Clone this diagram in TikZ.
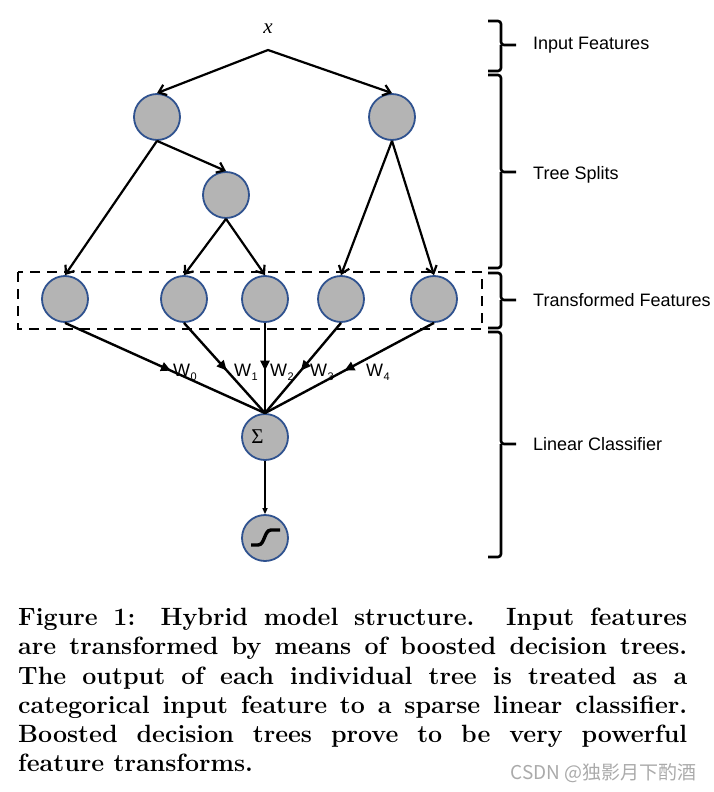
\documentclass[tikz,border=0pt]{standalone}
\usepackage{fontspec}
\newfontfamily\labfont{Liberation Sans}
\newfontfamily\symfont{Liberation Serif}
\newfontfamily\cjkfont{Noto Sans CJK SC}
\usetikzlibrary{arrows.meta,decorations.markings}
\definecolor{nodeblue}{RGB}{47,82,143}
\definecolor{nodegray}{RGB}{180,180,180}
\definecolor{wmgray}{RGB}{170,170,170}
\newcommand\mybrace[3]{%
  \draw[bracestyle] (488,#1) -| (501,#2) -- (516,#2);
  \draw[bracestyle] (501,#2) |- (488,#3);}
\newcommand\wsub[2]{W\kern0.5pt\raisebox{-4pt}{\fontsize{11}{11}\selectfont #2}}
\begin{document}
\begin{tikzpicture}[x=1pt,y=-1pt,
  unit/.style={circle, draw=nodeblue, line width=1.8pt, fill=nodegray, minimum size=46pt, inner sep=0pt},
  treeedge/.style={line width=2.2pt, -{Straight Barb[length=7pt,width=11pt]}},
  wedge/.style={line width=2.4pt, postaction={decorate},
    decoration={markings, mark=at position 0.53 with {\arrow{Triangle[length=10pt,width=9pt]}}}},
  bracestyle/.style={line width=2.6pt, rounded corners=3pt},
  lab/.style={font=\labfont\fontsize{18}{21}\selectfont, anchor=base west, inner sep=0pt},
  wlab/.style={font=\labfont\fontsize{18}{20}\selectfont, anchor=base west, inner sep=0pt}]
\useasboundingbox (0,0) rectangle (713,792);

% input
\node[font=\symfont\itshape\fontsize{21}{21}\selectfont, inner sep=0pt] (x) at (268,29) {x};
\coordinate (apex) at (268,50);

% tree nodes
\node[unit] (A) at (157,117) {};
\node[unit] (B) at (392,117) {};
\node[unit] (C) at (226,195) {};
\node[unit] (L1) at (65,299) {};
\node[unit] (L2) at (184,299) {};
\node[unit] (L3) at (265,299) {};
\node[unit] (L4) at (341,299) {};
\node[unit] (L5) at (434,299) {};
\node[unit, font=\symfont\fontsize{21}{21}\selectfont] (S) at (265,437) {\hspace*{-15pt}Σ};
\node[unit] (O) at (265,538) {};

% sigmoid glyph
\draw[line width=3.4pt] (251,545) -- (258,545) .. controls (265,545) and (264,530) .. (271,530) -- (280,530);

% tree edges
\draw[line width=2.2pt, {Straight Barb[length=7pt,width=11pt]}-{Straight Barb[length=7pt,width=11pt]}] (A.north) -- (apex) -- (B.north);
\draw[treeedge] (A.south) -- (C.north);
\draw[treeedge] (A.south) -- (L1.north);
\draw[treeedge] (C.south) -- (L2.north);
\draw[treeedge] (C.south) -- (L3.north);
\draw[treeedge] (B.south) -- (L4.north);
\draw[treeedge] (B.south) -- (L5.north);

% transformed features box
\draw[line width=2.4pt, dash pattern=on 10pt off 7pt] (18,272) rectangle (482,329);

% weighted edges
\draw[wedge] (L1.south) -- (S.north);
\draw[wedge] (L2.south) -- (S.north);
\draw[wedge] (L3.south) -- (S.north);
\draw[wedge] (L4.south) -- (S.north);
\draw[wedge] (L5.south) -- (S.north);
\node[wlab] (w0) at (173,376) {\wsub{W}{0}};
\node[wlab] (w1) at (234,376) {\wsub{W}{1}};
\node[wlab] (w2) at (270,376) {\wsub{W}{2}};
\node[wlab] (w3) at (310,376) {\wsub{W}{3}};
\node[wlab] (w4) at (366,376) {\wsub{W}{4}};

\draw[line width=1.5pt, -{Triangle[length=6pt,width=5pt]}] (S.south) -- (O.north);

% braces and labels
\mybrace{21}{45}{71}
\mybrace{75}{172}{268}
\mybrace{273}{300}{328}
\mybrace{332}{444}{557}
\node[lab] (t1) at (533,50) {Input Features};
\node[lab] (t2) at (533,179) {Tree Splits};
\node[lab] (t3) at (533,306.5) {Transformed Features};
\node[lab] (t4) at (533,450.5) {Linear Classifier};

% caption
\node[anchor=north west, inner sep=0pt, text width=669pt, align=justify,
  font=\bfseries\fontsize{25}{29.2}\selectfont] (cap) at (18,608)
  {Figure 1: Hybrid model structure. Input features\linebreak
   are transformed by means of boosted decision trees.\linebreak
   The output of each individual tree is treated as a\linebreak
   categorical input feature to a sparse linear classifier.\linebreak
   Boosted decision trees prove to be very powerful\linebreak
   feature transforms.};

\node[anchor=east, inner sep=0pt, text=wmgray, font=\cjkfont\fontsize{19}{19}\selectfont] (wm) at (697,773) {CSDN @独影月下酌酒};
\end{tikzpicture}
\end{document}
